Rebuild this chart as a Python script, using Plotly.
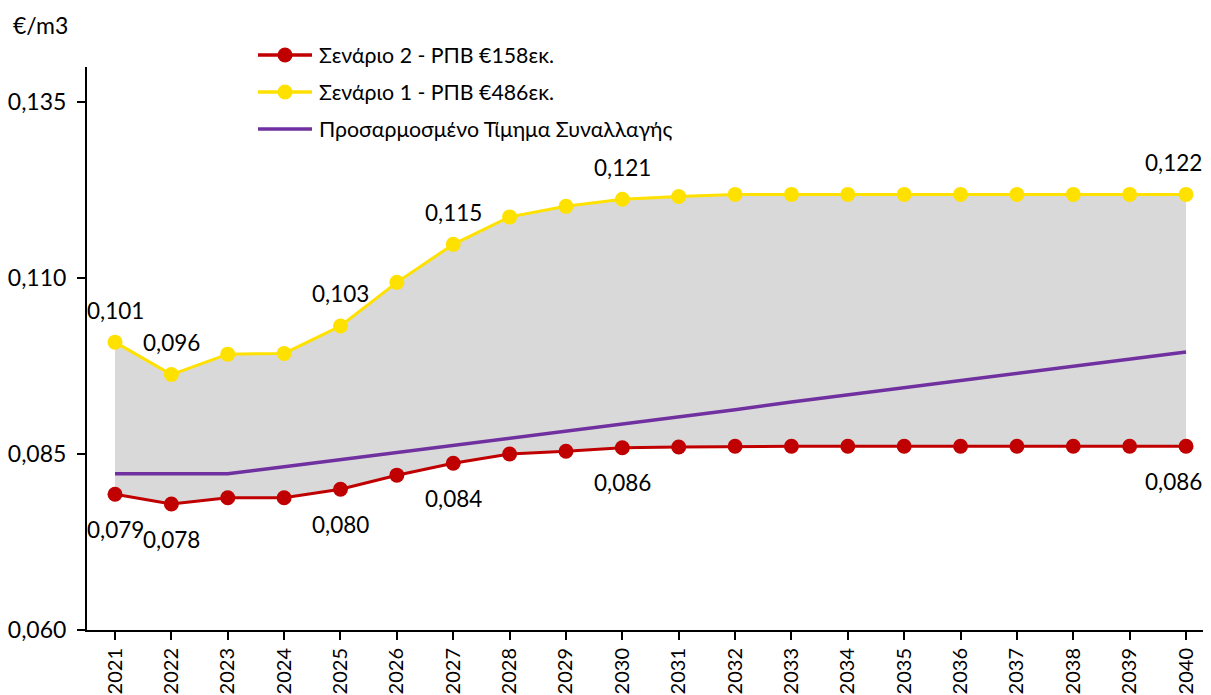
import plotly.graph_objects as go

years = list(range(2021, 2041))
scenario2 = [0.0793, 0.0779, 0.0788, 0.0788, 0.0800, 0.0820, 0.0837, 0.0850, 0.0854, 0.0859,
             0.0860, 0.0861, 0.0861, 0.0861, 0.0861, 0.0861, 0.0861, 0.0861, 0.0861, 0.0861]
scenario1 = [0.1009, 0.0963, 0.0992, 0.0993, 0.1032, 0.1094, 0.1148, 0.1187, 0.1202, 0.1212,
             0.1216, 0.1219, 0.1219, 0.1219, 0.1219, 0.1219, 0.1219, 0.1219, 0.1219, 0.1219]
adjusted = [0.0822, 0.0822, 0.0822, 0.0832, 0.0842, 0.0852, 0.0862, 0.0873, 0.0883, 0.0893,
            0.0903, 0.0913, 0.0924, 0.0934, 0.0944, 0.0954, 0.0965, 0.0975, 0.0985, 0.0995]
label_years = [2021, 2022, 2025, 2027, 2030, 2040]
y_ticks = [0.060, 0.085, 0.110, 0.135]
names = ["Σενάριο 2 - ΡΠΒ €158εκ.", "Σενάριο 1 - ΡΠΒ €486εκ.", "Προσαρμοσμένο Τίμημα Συναλλαγής"]

RED = "#C00000"
YEL = "#FFE100"
PUR = "#7030A0"
GRAY = "#D9D9D9"
FONT = "Lato"
FS_NUM = 22.5
FS_TICK = 23
FS_LEG = 21.3
FS_X = 20

OFF = 8  # default page body margin
W, H = 1211 - OFF, 695 - OFF
L, T = 87 - OFF, 67 - OFF
B = H - (630 - OFF)
R = 0
pw, ph = W - L - R, H - T - B

fig = go.Figure()
# fill base
fig.add_trace(go.Scatter(x=years, y=scenario2, mode="lines", line=dict(width=0, color=RED),
                         showlegend=False, hoverinfo="skip"))
fig.add_trace(go.Scatter(x=years, y=scenario1, mode="lines", line=dict(width=0, color=YEL),
                         fill="tonexty", fillcolor=GRAY, showlegend=False, hoverinfo="skip"))
fig.add_trace(go.Scatter(x=years, y=adjusted, mode="lines", line=dict(width=3.5, color=PUR),
                         name=names[2], showlegend=False))
fig.add_trace(go.Scatter(x=years, y=scenario2, mode="lines+markers", line=dict(width=3, color=RED),
                         marker=dict(size=15, color=RED), name=names[0], showlegend=False))
fig.add_trace(go.Scatter(x=years, y=scenario1, mode="lines+markers", line=dict(width=3, color=YEL),
                         marker=dict(size=15, color=YEL), name=names[1], showlegend=False))

ann = []
for yr in label_years:
    i = years.index(yr)
    xs = -13 if yr == years[-1] else 0
    ann.append(dict(x=yr, y=scenario1[i], xref="x", yref="y", text=f"{scenario1[i]:.3f}".replace(".", ","),
                    showarrow=False, yshift=32, xshift=xs, xanchor="center", yanchor="middle",
                    font=dict(family=FONT, size=FS_NUM, color="black")))
    ann.append(dict(x=yr, y=scenario2[i], xref="x", yref="y", text=f"{scenario2[i]:.3f}".replace(".", ","),
                    showarrow=False, yshift=-35, xshift=xs, xanchor="center", yanchor="middle",
                    font=dict(family=FONT, size=FS_NUM, color="black")))

# screen-pixel -> paper coordinates
def px_x(p):
    return (p - 87) / pw

def px_y(p):
    return (630 - p) / ph

ann.append(dict(x=px_x(11), y=px_y(25), xref="paper", yref="paper", text="€/m3", showarrow=False,
                xanchor="left", yanchor="middle", font=dict(family=FONT, size=FS_TICK, color="black")))

shapes = []
leg_colors = [RED, YEL, PUR]
leg_y = [55, 92, 129]
for k in range(3):
    yy = px_y(leg_y[k])
    shapes.append(dict(type="line", xref="paper", yref="paper", x0=px_x(258), x1=px_x(312), y0=yy, y1=yy,
                       line=dict(color=leg_colors[k], width=3.5)))
    if k < 2:
        shapes.append(dict(type="circle", xref="paper", yref="paper",
                           x0=px_x(285 - 7.5), x1=px_x(285 + 7.5), y0=px_y(leg_y[k] + 7.5), y1=px_y(leg_y[k] - 7.5),
                           fillcolor=leg_colors[k], line=dict(width=0)))
    ann.append(dict(x=px_x(317), y=yy, xref="paper", yref="paper", text=names[k], showarrow=False,
                    xanchor="left", yanchor="middle", font=dict(family=FONT, size=FS_LEG, color="black")))

fig.update_layout(
    width=W, height=H,
    margin=dict(l=L, r=R, t=T, b=B, pad=0, autoexpand=False),
    paper_bgcolor="white", plot_bgcolor="white",
    separators=",.",
    showlegend=False,
    annotations=ann, shapes=shapes,
    font=dict(family=FONT, size=FS_TICK, color="black"),
)
fig.update_xaxes(range=[2020.503, 2040.443], tickvals=years, ticktext=[str(y) for y in years],
                 tickangle=-90, ticks="outside", ticklen=8, tickwidth=2, tickcolor="black",
                 showline=True, linecolor="black", linewidth=2, showgrid=False, zeroline=False,
                 automargin=False, ticklabelstandoff=0,
                 tickfont=dict(family=FONT, size=FS_X, color="black"))
fig.update_yaxes(range=[0.060, 0.140], tickvals=y_ticks, tickformat=".3f",
                 ticks="outside", ticklen=8, tickwidth=2, tickcolor="black",
                 showline=True, linecolor="black", linewidth=2, showgrid=False, zeroline=False,
                 automargin=False, ticklabelstandoff=6,
                 tickfont=dict(family=FONT, size=FS_TICK, color="black"))

fig.write_html("out.html")
